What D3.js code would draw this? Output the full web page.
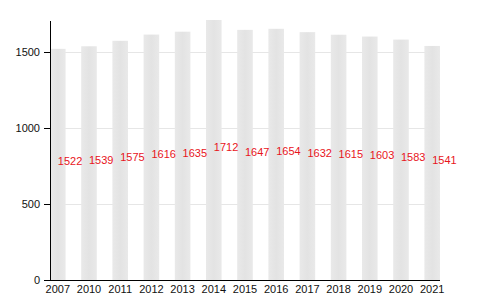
<!DOCTYPE html>
<html lang="en">
<head>
    <meta charset="UTF-8">
    <title>Bar chart</title>
    <style>
        body { margin: 0; background: #fff; font-family: "Liberation Sans", Arial, sans-serif; }
        .axis text { font-family: "Liberation Sans", Arial, sans-serif; font-size: 11px; fill: #111; }
        .axis path, .axis line { stroke: #000; shape-rendering: crispEdges; }
        .grid line { stroke: #e6e6e6; shape-rendering: crispEdges; }
        .value { font-family: "Liberation Sans", Arial, sans-serif; font-size: 11px; fill: #e8141c; }
    </style>
</head>
<body>
<div id="chart"></div>
<script src="https://d3js.org/d3.v7.min.js"></script>
<script>
    const years = ["2007", "2010", "2011", "2012", "2013", "2014", "2015", "2016", "2017", "2018", "2019", "2020", "2021"];
    const counts = [1522, 1539, 1575, 1616, 1635, 1712, 1647, 1654, 1632, 1615, 1603, 1583, 1541];
    const yTicks = [0, 500, 1000, 1500];

    const width = 480, height = 300;
    const margin = { top: 20, right: 40, bottom: 20, left: 50 };

    const svg = d3.select("#chart").append("svg")
        .attr("width", width)
        .attr("height", height);

    const x = d3.scaleBand()
        .domain(years)
        .range([margin.left, width - margin.right])
        .paddingInner(0.5)
        .paddingOuter(0);

    const y = d3.scaleLinear()
        .domain([0, d3.max(counts)])
        .range([height - margin.bottom, margin.top]);

    // horizontal gridlines behind the bars
    svg.append("g")
        .attr("class", "grid")
        .selectAll("line")
        .data(yTicks.filter(d => d > 0))
        .join("line")
        .attr("x1", margin.left)
        .attr("x2", width - margin.right)
        .attr("y1", d => y(d))
        .attr("y2", d => y(d));

    const defs = svg.append("defs");
    const grad = defs.append("linearGradient").attr("id", "bar-grad");
    grad.append("stop").attr("offset", "0%").attr("stop-color", "#e9e9e9");
    grad.append("stop").attr("offset", "50%").attr("stop-color", "#e3e3e3");
    grad.append("stop").attr("offset", "100%").attr("stop-color", "#e9e9e9");

    svg.append("g")
        .selectAll("rect")
        .data(counts)
        .join("rect")
        .attr("x", (d, i) => x(years[i]))
        .attr("y", d => y(d))
        .attr("width", x.bandwidth())
        .attr("height", d => y(0) - y(d))
        .attr("fill", "url(#bar-grad)");

    // value labels start at the bar centre, halfway up the bar
    svg.append("g")
        .selectAll("text")
        .data(counts)
        .join("text")
        .attr("class", "value")
        .attr("x", (d, i) => x(years[i]) + x.bandwidth() / 2)
        .attr("y", d => (y(d) + y(0)) / 2 + 1)
        .text(d => d);

    svg.append("g")
        .attr("class", "axis")
        .attr("transform", `translate(${margin.left},0)`)
        .call(d3.axisLeft(y).tickValues(yTicks).tickFormat(d3.format("d")).tickSize(6).tickSizeOuter(0).tickPadding(4));

    svg.append("g")
        .attr("class", "axis")
        .attr("transform", `translate(0,${height - margin.bottom})`)
        .call(d3.axisBottom(x).tickSize(0).tickPadding(5))
        .call(g => g.select(".domain").attr("d", `M${margin.left},0.5H${width - margin.right}`));
</script>
</body>
</html>
